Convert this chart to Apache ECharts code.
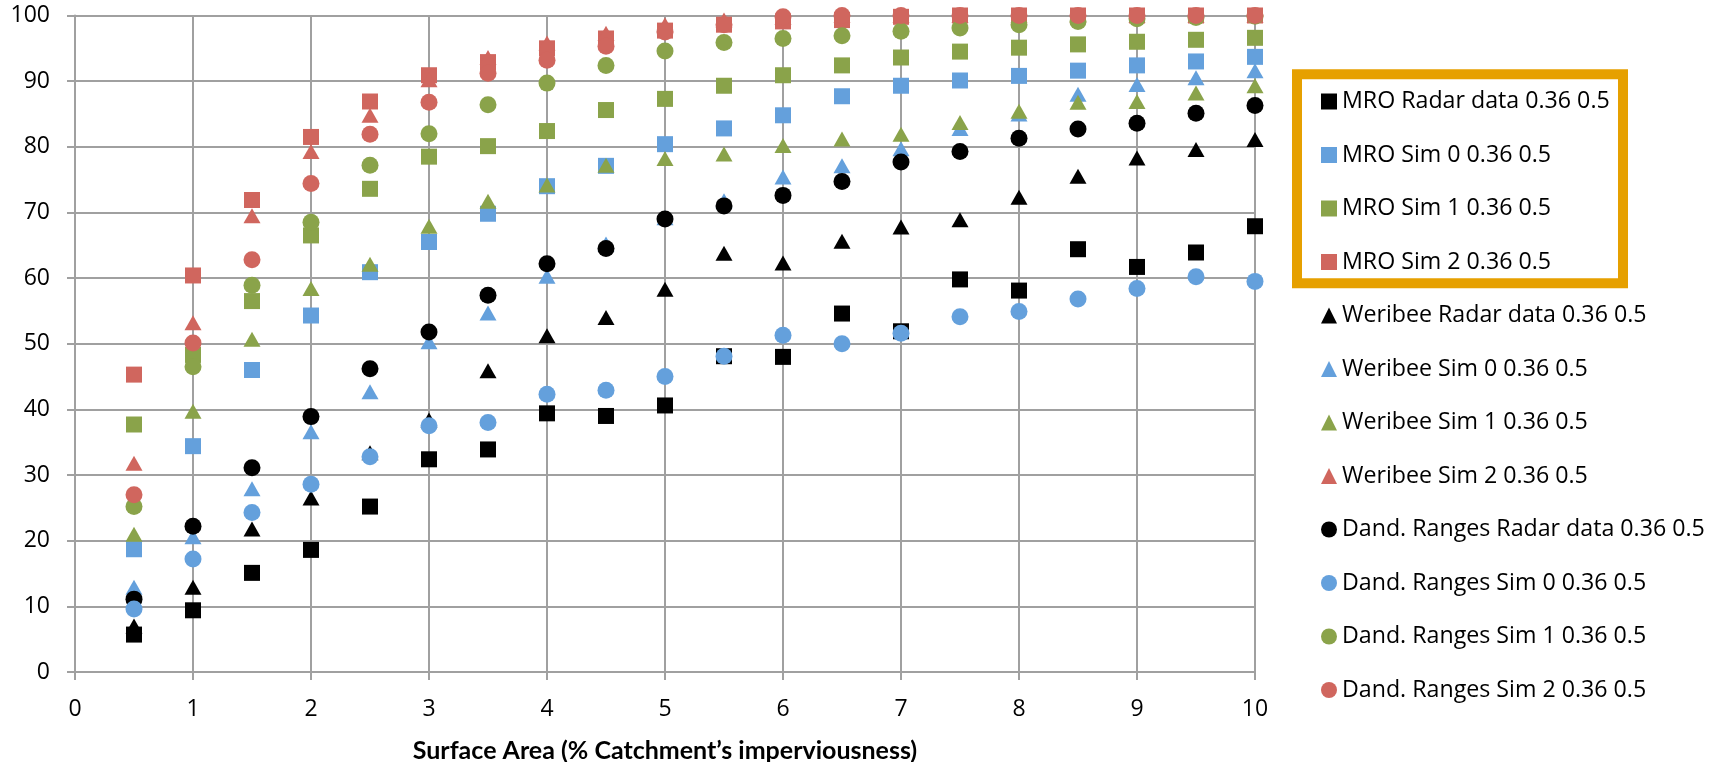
<!DOCTYPE html>
<html>
<head>
<meta charset="utf-8">
<script src="https://cdn.jsdelivr.net/npm/echarts@6/dist/echarts.min.js"></script>
<style>
html,body{margin:0;padding:0;background:#fff;}
#chart{width:1719px;height:762px;}
</style>
</head>
<body>
<div id="chart"></div>
<script>
// ---- data ----
const xValues = [0.5,1,1.5,2,2.5,3,3.5,4,4.5,5,5.5,6,6.5,7,7.5,8,8.5,9,9.5,10];
const seriesNames = [
  'MRO Radar data 0.36 0.5','MRO Sim 0 0.36 0.5','MRO Sim 1 0.36 0.5','MRO Sim 2 0.36 0.5',
  'Weribee Radar data 0.36 0.5','Weribee Sim 0 0.36 0.5','Weribee Sim 1 0.36 0.5','Weribee Sim 2 0.36 0.5',
  'Dand. Ranges Radar data 0.36 0.5','Dand. Ranges Sim 0 0.36 0.5','Dand. Ranges Sim 1 0.36 0.5','Dand. Ranges Sim 2 0.36 0.5'
];
const mroRadar   = [5.7,9.4,15.1,18.6,25.2,32.4,33.9,39.4,39.0,40.6,48.1,48.0,54.6,51.9,59.8,58.1,64.4,61.7,63.9,67.9];
const mroSim0    = [18.7,34.4,46.0,54.3,60.9,65.5,69.8,74.0,77.1,80.4,82.8,84.8,87.7,89.3,90.1,90.8,91.6,92.4,93.0,93.7];
const mroSim1    = [37.7,48.3,56.5,66.5,73.6,78.5,80.1,82.4,85.6,87.3,89.3,90.9,92.4,93.6,94.5,95.1,95.6,96.0,96.3,96.6];
const mroSim2    = [45.3,60.4,71.9,81.5,86.9,90.9,92.9,95.0,96.5,97.7,98.6,99.1,99.3,99.8,100,100,100,100,100,100];
const werRadar   = [7.0,12.9,21.8,26.5,33.4,38.4,45.9,51.2,54.0,58.3,63.8,62.3,65.6,67.8,68.9,72.3,75.5,78.3,79.6,81.1];
const werSim0    = [12.9,20.6,27.9,36.6,42.7,50.3,54.7,60.3,65.2,69.2,71.8,75.4,77.1,79.7,82.8,85.0,88.0,89.5,90.5,91.6];
const werSim1    = [21.0,39.7,50.7,58.4,62.1,67.9,71.7,74.2,77.2,78.2,78.9,80.2,81.2,81.9,83.7,85.4,86.8,86.9,88.2,89.3];
const werSim2    = [31.8,53.2,69.5,79.3,84.8,90.2,93.6,95.8,97.3,98.6,99.3,99.7,100,100,100,100,100,100,100,100];
const dandRadar  = [11.1,22.2,31.1,38.9,46.2,51.8,57.4,62.2,64.5,69.0,71.0,72.6,74.7,77.7,79.3,81.3,82.7,83.6,85.1,86.3];
const dandSim0   = [9.6,17.2,24.3,28.6,32.8,37.5,38.0,42.3,42.9,45.0,48.1,51.3,50.0,51.6,54.1,54.9,56.8,58.4,60.2,59.5];
const dandSim1   = [25.2,46.5,58.9,68.5,77.2,82.0,86.4,89.7,92.4,94.6,95.9,96.5,96.9,97.6,98.1,98.6,99.1,99.5,99.7,99.9];
const dandSim2   = [27.0,50.1,62.8,74.4,81.9,86.8,91.2,93.2,95.3,97.5,98.6,99.8,100,100,100,100,100,100,100,100];
const xTicks = [0,1,2,3,4,5,6,7,8,9,10];
const yTicks = [0,10,20,30,40,50,60,70,80,90,100];
const xTitle = 'Surface Area (% Catchment\u2019s imperviousness)';

const allValues = [mroRadar,mroSim0,mroSim1,mroSim2,werRadar,werSim0,werSim1,werSim2,dandRadar,dandSim0,dandSim1,dandSim2];
const colors = ['#000000','#64A0DC','#8AA34A','#D0665E'];
const shapes = ['rect','triangle','circle'];

const series = allValues.map((vals, i) => {
  const shape = shapes[Math.floor(i / 4)];
  const size = shape === 'triangle' ? [17, 15] : (shape === 'rect' ? 16 : 17);
  return {
    name: seriesNames[i],
    type: 'scatter',
    symbol: shape,
    symbolSize: size,
    itemStyle: { color: colors[i % 4], opacity: 1 },
    emphasis: { disabled: true },
    data: vals.map((v, k) => [xValues[k], v])
  };
});

const gridColor = '#A0A0A0';
const chart = echarts.init(document.getElementById('chart'), null, { renderer: 'canvas' });
chart.setOption({
  animation: false,
  backgroundColor: '#ffffff',
  grid: { left: 75, right: 464, top: 15.5, bottom: 90, containLabel: false, outerBoundsMode: 'none' },
  xAxis: {
    type: 'value', min: 0, max: 10, interval: 1,
    axisLine: { show: true, lineStyle: { color: gridColor, width: 2 } },
    axisTick: { show: true, length: 8, lineStyle: { color: gridColor, width: 2 } },
    splitLine: { show: true, lineStyle: { color: gridColor, width: 2 } },
    axisLabel: { color: '#000', fontFamily: 'Open Sans', fontSize: 23, margin: 26,
      formatter: v => xTicks.includes(v) ? String(v) : '' },
    name: xTitle, nameLocation: 'middle', nameGap: 66,
    nameTextStyle: { color: '#000', fontFamily: 'Lato', fontWeight: 'bold', fontSize: 25 }
  },
  yAxis: {
    type: 'value', min: 0, max: 100, interval: 10,
    axisLine: { show: true, lineStyle: { color: gridColor, width: 2 } },
    axisTick: { show: true, length: 8, lineStyle: { color: gridColor, width: 2 } },
    splitLine: { show: true, lineStyle: { color: gridColor, width: 2 } },
    axisLabel: { color: '#000', fontFamily: 'Open Sans', fontSize: 23, margin: 25,
      formatter: v => yTicks.includes(v) ? String(v) : '' }
  },
  legend: {
    orient: 'vertical', left: 1316, top: 85,
    itemWidth: 16, itemHeight: 16, itemGap: 30.5,
    selectedMode: false,
    textStyle: { color: '#000', fontFamily: 'Open Sans', fontSize: 23.2, lineHeight: 22 },
    data: seriesNames.map((n, i) => ({ name: n, icon: shapes[Math.floor(i / 4)] }))
  },
  graphic: [{
    type: 'rect', silent: true,
    shape: { x: 1297, y: 74.3, width: 326, height: 209 },
    style: { fill: null, stroke: '#E6A000', lineWidth: 10 }
  }],
  series: series
});
</script>
</body>
</html>
